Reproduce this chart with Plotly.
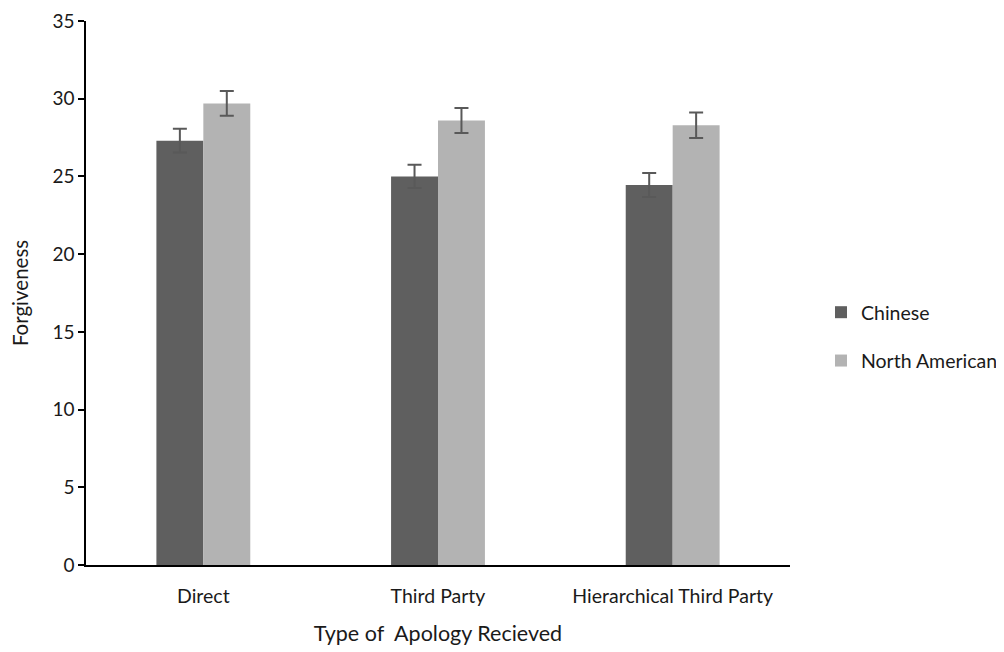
import plotly.graph_objects as go

categories = ["Direct", "Third Party", "Hierarchical Third Party"]
chinese = [27.3, 25.0, 24.45]
chinese_err = [0.76, 0.75, 0.77]
north_american = [29.7, 28.6, 28.3]
north_american_err = [0.8, 0.8, 0.82]
y_ticks = [0, 5, 10, 15, 20, 25, 30, 35]

FONT = "Lato, Open Sans, sans-serif"

fig = go.Figure()
fig.add_trace(go.Bar(
    x=categories, y=chinese, name="Chinese", legendgroup="cn",
    marker=dict(color="#5f5f5f", line=dict(width=0)),
    error_y=dict(type="data", array=chinese_err, color="#595959", thickness=2, width=7),
))
fig.add_trace(go.Bar(
    x=categories, y=north_american, name="North American", legendgroup="na",
    marker=dict(color="#b3b3b3", line=dict(width=0)),
    error_y=dict(type="data", array=north_american_err, color="#595959", thickness=2, width=7),
))

fig.update_layout(
    width=1004, height=652,
    margin=dict(l=78, r=222, t=13, b=95, autoexpand=False),
    plot_bgcolor="white", paper_bgcolor="white",
    barmode="group", bargap=0.6, bargroupgap=0,
    font=dict(family=FONT, size=19, color="#1a1a1a"),
    legend=dict(x=1.044, y=0.42, xanchor="left", yanchor="middle",
                font=dict(size=19.5), tracegroupgap=20, itemwidth=30),
    showlegend=True,
)
fig.update_xaxes(
    showline=True, linecolor="black", linewidth=1.5, automargin=False,
    ticks="", tickfont=dict(size=19.5), ticklabelstandoff=13,
    title=dict(text="Type of  Apology Recieved", font=dict(size=21.5), standoff=20),
)
fig.update_yaxes(
    range=[0, 35], tickvals=y_ticks, automargin=False, ticklabeloverflow="allow",
    showline=True, linecolor="black", linewidth=1.5,
    ticks="outside", ticklen=6, tickcolor="black", tickwidth=1.5,
    showgrid=False, zeroline=False, tickfont=dict(size=19),
    title=dict(text="Forgiveness", font=dict(size=20.5), standoff=18),
)

fig.write_html("out.html")
